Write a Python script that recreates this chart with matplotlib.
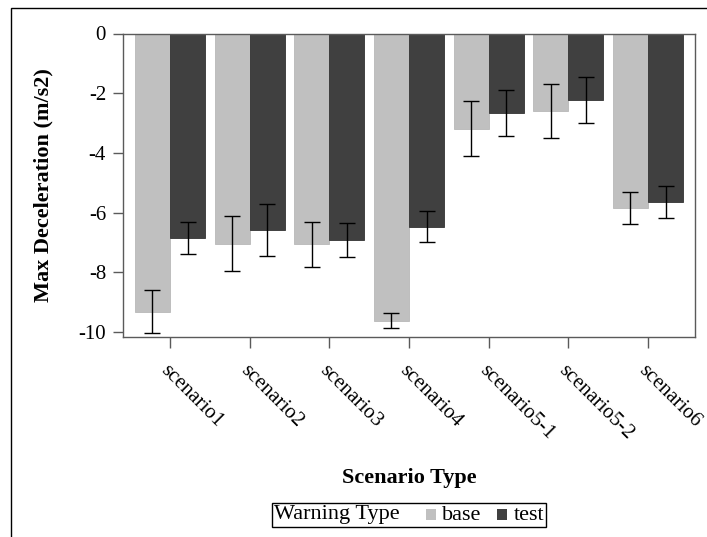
import numpy as np
import matplotlib
matplotlib.use("Agg")
import matplotlib.pyplot as plt
from matplotlib.patches import Rectangle
from matplotlib.offsetbox import AnchoredOffsetbox, HPacker, TextArea, DrawingArea
import matplotlib.transforms as mtransforms

plt.rcParams['font.family'] = ['Liberation Serif', 'DejaVu Serif']

# data
scenarios = ['scenario1', 'scenario2', 'scenario3', 'scenario4',
             'scenario5-1', 'scenario5-2', 'scenario6']
base_mean = [-9.32, -7.04, -7.07, -9.63, -3.19, -2.60, -5.85]
base_err = [0.71, 0.93, 0.76, 0.25, 0.92, 0.90, 0.54]
test_mean = [-6.85, -6.58, -6.92, -6.48, -2.67, -2.23, -5.65]
test_err = [0.53, 0.88, 0.56, 0.52, 0.76, 0.77, 0.54]
yticks = [0, -2, -4, -6, -8, -10]

base_color = '#c0c0c0'
test_color = '#404040'
spine_color = '#5a5a5a'
fs = 15
lfs = 16

W, H = 707, 537
fig = plt.figure(figsize=(W / 100, H / 100), dpi=100)
ax = fig.add_axes([123 / W, 1 - 337 / H, (695 - 123) / W, (337 - 33.5) / H])

x = np.arange(len(scenarios))
w = 0.44
err_kw = dict(ecolor='black', elinewidth=1.0, capsize=5.5, capthick=1.0)
ax.bar(x - w / 2, base_mean, w, color=base_color, edgecolor='#b8b8b8',
       linewidth=0.6, yerr=base_err, error_kw=err_kw, label='base')
ax.bar(x + w / 2, test_mean, w, color=test_color, edgecolor='#333333',
       linewidth=0.6, yerr=test_err, error_kw=err_kw, label='test')

ax.set_xlim(-0.59, 6.59)
ax.set_ylim(-10.17, 0)
ax.set_yticks(yticks)
ax.set_yticklabels([str(v) for v in yticks], fontsize=fs)
ax.set_xticks(x)
ax.set_xticklabels(scenarios, fontsize=fs, rotation=-45, ha='left', va='top',
                   rotation_mode='anchor')
offset = mtransforms.ScaledTranslation(-10 / 100, 0, fig.dpi_scale_trans)
for lab in ax.get_xticklabels():
    lab.set_transform(lab.get_transform() + offset)

for s in ax.spines.values():
    s.set_color(spine_color)
    s.set_linewidth(1.0)
ax.tick_params(axis='y', length=7.2, width=1.0, color=spine_color, pad=5)
ax.tick_params(axis='x', length=8, width=1.0, color=spine_color, pad=9)

ax.set_ylabel('Max Deceleration (m/s2)', fontsize=lfs, fontweight='bold',
              labelpad=18)
ax.set_xlabel('Scenario Type', fontsize=lfs, fontweight='bold', labelpad=18)

# legend with the title on the left, as in the reference
def swatch(color):
    da = DrawingArea(9, 10, 0, 0)
    da.add_artist(Rectangle((1, 0), 7.5, 7.5, facecolor=color, edgecolor='none'))
    return da

items = [TextArea('Warning Type', textprops=dict(fontsize=lfs)),
         DrawingArea(10, 10, 0, 0),
         swatch(base_color),
         TextArea('base', textprops=dict(fontsize=lfs)),
         DrawingArea(2, 10, 0, 0),
         swatch(test_color),
         TextArea('test', textprops=dict(fontsize=lfs))]
pack = HPacker(children=items, align='baseline', pad=0, sep=4)
leg = AnchoredOffsetbox(loc='center', child=pack, pad=0.15, borderpad=0,
                        frameon=True, bbox_to_anchor=(409 / W, 1 - 515 / H),
                        bbox_transform=fig.transFigure)
leg.patch.set_edgecolor('black')
leg.patch.set_linewidth(1.0)
leg.patch.set_boxstyle('square', pad=0)
fig.add_artist(leg)

# outer frame of the graph (cropped at right and bottom)
fig.patches.append(Rectangle((11 / W, -0.2), 1.5, 0.2 + (H - 8.5) / H,
                             transform=fig.transFigure, fill=False,
                             edgecolor='black', linewidth=1.0))

fig.savefig('out.png', dpi=100)
